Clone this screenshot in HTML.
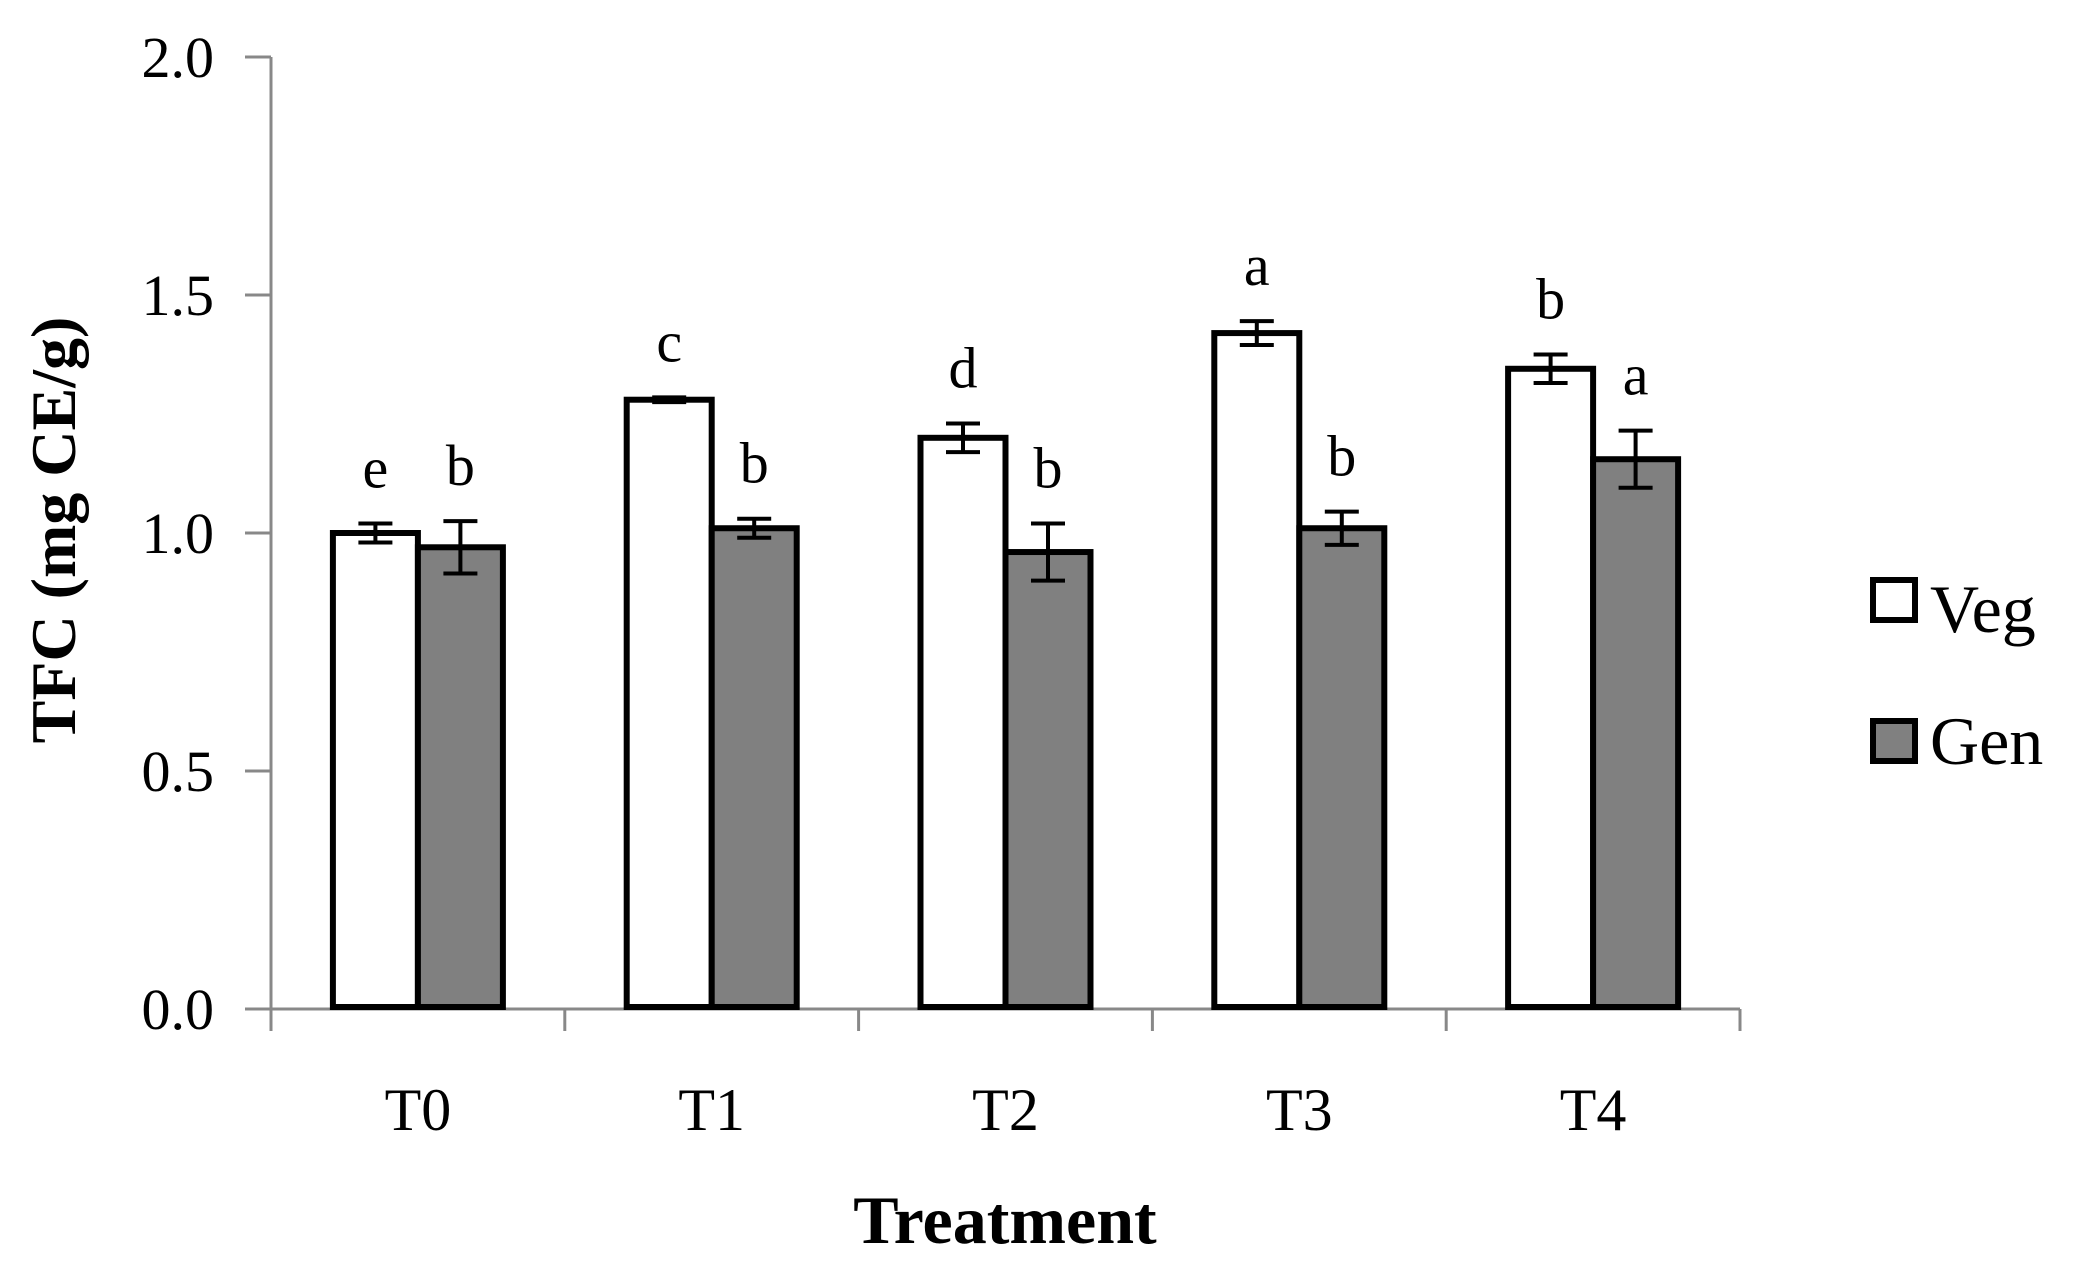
<!DOCTYPE html>
<html><head><meta charset="utf-8"><style>
body{margin:0;background:#fff}
svg{display:block;font-family:"Liberation Serif",serif}
</style></head><body>
<svg id="chart" width="2073" height="1265" viewBox="0 0 2073 1265" xmlns="http://www.w3.org/2000/svg">
<g id="axes"></g><g id="bars"></g>
<text transform="translate(75,530) rotate(-90)" text-anchor="middle" font-size="64" font-weight="bold">TFC (mg CE/g)</text>
<text x="1005" y="1243" text-anchor="middle" font-size="68" font-weight="bold">Treatment</text>
<g>
<rect x="1873" y="580" width="42" height="40" fill="#fff" stroke="#000" stroke-width="6"/>
<text x="1930" y="632" font-size="68">Veg</text>
<rect x="1873" y="721" width="42" height="40" fill="#808080" stroke="#000" stroke-width="6"/>
<text x="1930" y="764" font-size="68">Gen</text>
</g>
</svg>
<script>
const categories=["T0","T1","T2","T3","T4"];
const vegValues=[1.0,1.28,1.20,1.42,1.345];
const genValues=[0.97,1.01,0.96,1.01,1.155];
const vegErrors=[0.02,0.005,0.03,0.025,0.03];
const genErrors=[0.055,0.02,0.06,0.035,0.06];
const vegLetters=["e","c","d","a","b"];
const genLetters=["b","b","b","b","a"];
const yTicks=[0,0.5,1.0,1.5,2.0];
const yTickLabels=["0.0","0.5","1.0","1.5","2.0"];

const NS="http://www.w3.org/2000/svg";
const x0=271,x1=1740,yTop=57,yBot=1009,yMax=2.0;
const catW=(x1-x0)/categories.length;
const barW=85;
function yScale(v){return yBot-(v/yMax)*(yBot-yTop);}
function mk(tag,attrs,parent){const e=document.createElementNS(NS,tag);for(const k in attrs)e.setAttribute(k,attrs[k]);parent.appendChild(e);return e;}
const axes=document.getElementById('axes'),bars=document.getElementById('bars');
let el=mk('line',{x1:x0,y1:yTop,x2:x0,y2:yBot,stroke:'#888','stroke-width':3},axes);


el=mk('line',{x1:x0,y1:yBot,x2:x1,y2:yBot,stroke:'#888','stroke-width':3},axes);


yTicks.forEach((t,i)=>{
  const y=yScale(t);
  let l=mk('line',{x1:x0-26,y1:y,x2:x0,y2:y,stroke:'#888','stroke-width':3},axes);
  
  
  let tx=mk('text',{x:214,y:y+20,'text-anchor':'end','font-size':58},axes);
  tx.textContent=yTickLabels[i];
  
  
});
for(let i=0;i<=categories.length;i++){
  const x=x0+i*catW;
  let l=mk('line',{x1:x,y1:yBot,x2:x,y2:yBot+22,stroke:'#888','stroke-width':3},axes);
  
  
}
categories.forEach((c,i)=>{
  const cx=x0+(i+0.5)*catW;
  let tx=mk('text',{x:cx,y:1130,'text-anchor':'middle','font-size':60},axes);
  tx.textContent=c;
  
  
  const series=[[vegValues[i],vegErrors[i],vegLetters[i],'#fff','veg',cx-barW],[genValues[i],genErrors[i],genLetters[i],'#808080','gen',cx]];
  series.forEach(s=>{
    const [v,e,let_,fill,nm,bx]=s;
    const y=yScale(v);
    let r=mk('rect',{x:bx,y:y,width:barW,height:yBot-y-2,fill:fill,stroke:'#000','stroke-width':6},bars);
    
    
    const mx=bx+barW/2,yh=yScale(v+e),yl=yScale(v-e);
    let g=mk('path',{d:`M${mx-17},${yh}H${mx+17}M${mx},${yh}V${yl}M${mx-17},${yl}H${mx+17}`,stroke:'#000','stroke-width':4,fill:'none'},bars);
    
    
    let lt=mk('text',{x:mx,y:yh-36,'text-anchor':'middle','font-size':58},bars);
    lt.textContent=let_;
    
    
  });
});
</script>
</body></html>
